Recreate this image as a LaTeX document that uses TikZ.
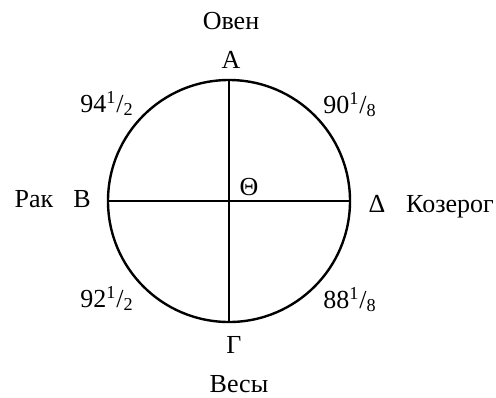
\documentclass[tikz,border=0pt]{standalone}
\usepackage{fontspec}
\setmainfont{Liberation Serif}
\usetikzlibrary{positioning}

\newcommand{\frc}[3]{#1\textsuperscript{#2}/\textsubscript{#3}}

\begin{document}
\begin{tikzpicture}[x=0.5pt, y=-0.5pt,
  every node/.style={font=\fontsize{13}{15}\selectfont},
  lbl/.style={anchor=base, inner sep=0pt},
  wheel/.style={circle, draw, line width=1.2pt, minimum size=121pt, inner sep=0pt},
  axis/.style={line width=1.2pt}
]
\useasboundingbox (0,0) rectangle (496,397);

% Circle and cross
\node[wheel] (c) at (229,201) {};
\draw[axis] (c.north) -- (c.south);
\draw[axis] (c.west) -- (c.east);

% Points on the circle
\node[lbl] (a)     at (231,68)  {А};
\node[lbl] (b)     at (82,207)  {В};
\node[lbl] (g)     at (234,353) {Г};
\node[lbl] (d)     at (377,212) {Δ};
\node[lbl] (theta) at (249,195) {Θ};

% Signs
\node[lbl] (aries)  at (231,29)  {Овен};
\node[lbl] (cancer) at (34,207)  {Рак};
\node[lbl] (capri)  at (450,212) {Козерог};
\node[lbl] (libra)  at (239,392) {Весы};

% Quarter values
\node[lbl] (q1) at (107,112) {\frc{94}{1}{2}};
\node[lbl] (q2) at (350,113) {\frc{90}{1}{8}};
\node[lbl] (q3) at (107,307) {\frc{92}{1}{2}};
\node[lbl] (q4) at (350,308) {\frc{88}{1}{8}};

\end{tikzpicture}
\end{document}
